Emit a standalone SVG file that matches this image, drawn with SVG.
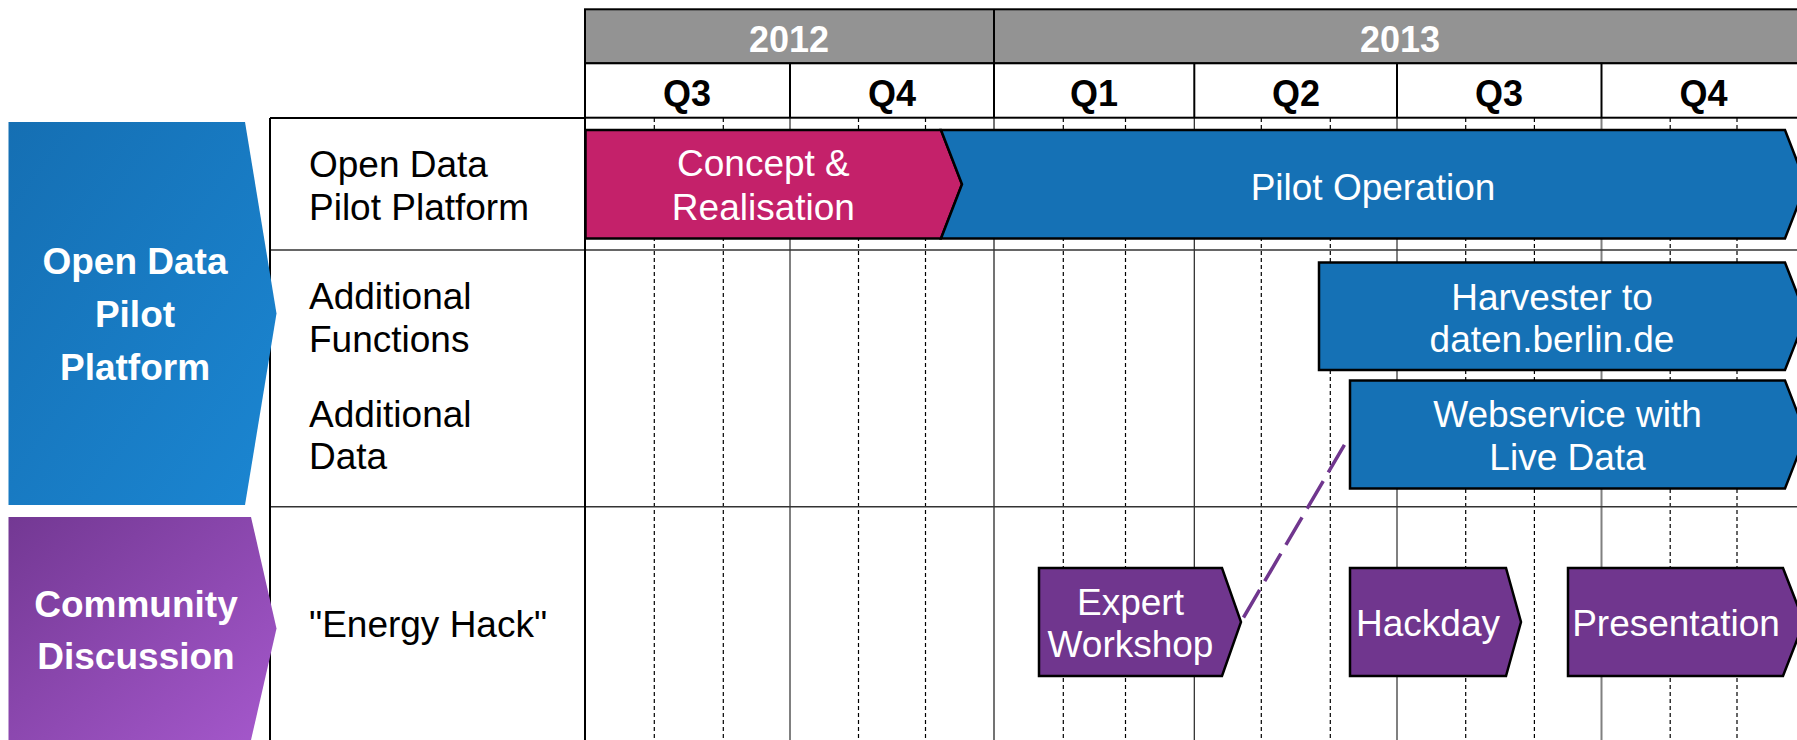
<svg xmlns="http://www.w3.org/2000/svg" width="1797" height="740" viewBox="0 0 1797 740">
<style>
.lbl{font-family:"Liberation Sans",Arial,sans-serif;font-size:37px;fill:#000}
.bt{font-family:"Liberation Sans",Arial,sans-serif;font-size:37px;fill:#fff;text-anchor:middle}
.hd{font-family:"Liberation Sans",Arial,sans-serif;font-size:36px;font-weight:bold;text-anchor:middle}
.cat{font-family:"Liberation Sans",Arial,sans-serif;font-size:37px;font-weight:bold;fill:#fff;text-anchor:middle}
.bar{stroke:#000;stroke-width:2.5;stroke-linejoin:miter}
.blue{fill:#1571b5}
.mag{fill:#c4216a}
.pur{fill:#70368e}
.mon{stroke:#000;stroke-width:1.2;stroke-dasharray:4 3}
.qtr{stroke:#808080;stroke-width:2}
.row{stroke:#333;stroke-width:1.5}
</style>
<defs>
<linearGradient id="gBlue" x1="0" y1="0" x2="1" y2="1">
<stop offset="0" stop-color="#156fb3"/>
<stop offset="1" stop-color="#1b86d2"/>
</linearGradient>
<linearGradient id="gPur" x1="0" y1="0" x2="1" y2="1">
<stop offset="0" stop-color="#733893"/>
<stop offset="1" stop-color="#a558cc"/>
</linearGradient>
</defs>
<rect width="1797" height="740" fill="#fff"/>

<g id="grid">
<line class="mon" x1="654.3" y1="118" x2="654.3" y2="740"/>
<line class="mon" x1="723.3" y1="118" x2="723.3" y2="740"/>
<line class="mon" x1="858.5" y1="118" x2="858.5" y2="740"/>
<line class="mon" x1="925.5" y1="118" x2="925.5" y2="740"/>
<line class="mon" x1="1063.3" y1="118" x2="1063.3" y2="740"/>
<line class="mon" x1="1125.5" y1="118" x2="1125.5" y2="740"/>
<line class="mon" x1="1261.3" y1="118" x2="1261.3" y2="740"/>
<line class="mon" x1="1330.3" y1="118" x2="1330.3" y2="740"/>
<line class="mon" x1="1465.7" y1="118" x2="1465.7" y2="740"/>
<line class="mon" x1="1534.4" y1="118" x2="1534.4" y2="740"/>
<line class="mon" x1="1670.2" y1="118" x2="1670.2" y2="740"/>
<line class="mon" x1="1737" y1="118" x2="1737" y2="740"/>
<line class="qtr" x1="790" y1="118" x2="790" y2="740"/>
<line class="qtr" x1="994" y1="118" x2="994" y2="740" style="stroke:#444;stroke-width:1.5"/>
<line class="qtr" x1="1194.3" y1="118" x2="1194.3" y2="740" style="stroke:#222;stroke-width:1.2"/>
<line class="qtr" x1="1397" y1="118" x2="1397" y2="740"/>
<line class="qtr" x1="1601.5" y1="118" x2="1601.5" y2="740"/>
<line class="row" x1="270" y1="250" x2="1797" y2="250"/>
<line class="row" x1="270" y1="506.7" x2="1797" y2="506.7"/>
<line x1="270" y1="118" x2="585" y2="118" stroke="#000" stroke-width="2"/>
<line x1="270" y1="118" x2="270" y2="740" stroke="#000" stroke-width="2"/>
<line x1="585" y1="9.3" x2="585" y2="740" stroke="#000" stroke-width="2"/>
</g>

<g id="header">
<rect x="585" y="9.3" width="1240" height="54" fill="#939393" stroke="#000" stroke-width="2"/>
<rect x="585" y="63.3" width="1240" height="54.4" fill="#fff" stroke="#000" stroke-width="2"/>
<line x1="994" y1="9.3" x2="994" y2="117.7" stroke="#000" stroke-width="2"/>
<line x1="790" y1="63.3" x2="790" y2="117.7" stroke="#000" stroke-width="2"/>
<line x1="1194.3" y1="63.3" x2="1194.3" y2="117.7" stroke="#000" stroke-width="2"/>
<line x1="1397" y1="63.3" x2="1397" y2="117.7" stroke="#000" stroke-width="2"/>
<line x1="1601.5" y1="63.3" x2="1601.5" y2="117.7" stroke="#000" stroke-width="2"/>
<text class="hd" x="789" y="51.5" fill="#fff">2012</text>
<text class="hd" x="1400" y="51.5" fill="#fff">2013</text>
<text class="hd" x="687" y="106">Q3</text>
<text class="hd" x="892" y="106">Q4</text>
<text class="hd" x="1094" y="106">Q1</text>
<text class="hd" x="1296" y="106">Q2</text>
<text class="hd" x="1499" y="106">Q3</text>
<text class="hd" x="1703.5" y="106">Q4</text>
</g>

<g id="cat-open-data">
<polygon points="8.5,122 245,122 276.5,313.5 245,505 8.5,505" fill="url(#gBlue)"/>
<text class="cat" x="135" y="274">Open Data</text>
<text class="cat" x="135" y="327">Pilot</text>
<text class="cat" x="135" y="380">Platform</text>
</g>

<g id="cat-community">
<polygon points="8.5,517 251,517 276.5,628.5 251,740 8.5,740" fill="url(#gPur)"/>
<text class="cat" x="136" y="616.5">Community</text>
<text class="cat" x="136" y="668.5">Discussion</text>
</g>

<g id="row-labels">
<text class="lbl" x="309" y="176.7">Open Data</text>
<text class="lbl" x="309" y="220">Pilot Platform</text>
<text class="lbl" x="309" y="309.3">Additional</text>
<text class="lbl" x="309" y="351.7">Functions</text>
<text class="lbl" x="309" y="426.7">Additional</text>
<text class="lbl" x="309" y="469.3">Data</text>
<text class="lbl" x="309" y="636.7">"Energy Hack"</text>
</g>

<g id="bar-concept">
<polygon class="bar mag" points="585.5,130 941,130 962,184.3 941,238.5 585.5,238.5"/>
<text class="bt" x="763.4" y="175.7">Concept &amp;</text>
<text class="bt" x="763.4" y="220">Realisation</text>
</g>

<g id="bar-pilot">
<polygon class="bar blue" points="941,130 1785,130 1806,184.3 1785,238.5 941,238.5 962,184.3"/>
<text class="bt" x="1373" y="200">Pilot Operation</text>
</g>

<g id="bar-harvester">
<polygon class="bar blue" points="1319,262.5 1785,262.5 1806,316.3 1785,370 1319,370"/>
<text class="bt" x="1552" y="310">Harvester to</text>
<text class="bt" x="1552" y="351.7">daten.berlin.de</text>
</g>

<g id="bar-webservice">
<polygon class="bar blue" points="1350,380.5 1785,380.5 1806,434.5 1785,488.5 1350,488.5"/>
<text class="bt" x="1567.5" y="426.7">Webservice with</text>
<text class="bt" x="1567.5" y="470">Live Data</text>
</g>

<g id="bar-expert">
<polygon class="bar pur" points="1039,568 1222,568 1241,622 1222,676 1039,676"/>
<text class="bt" x="1130.5" y="615">Expert</text>
<text class="bt" x="1130.5" y="656.7">Workshop</text>
</g>

<g id="bar-hackday">
<polygon class="bar pur" points="1350,568 1506,568 1521,622 1506,676 1350,676"/>
<text class="bt" x="1428" y="636">Hackday</text>
</g>

<g id="bar-presentation">
<polygon class="bar pur" points="1568,568 1783,568 1804,622 1783,676 1568,676"/>
<text class="bt" x="1676" y="636">Presentation</text>
</g>

<g id="connectors">
<line x1="1243.5" y1="617.5" x2="1349" y2="437" stroke="#70368e" stroke-width="3.5" stroke-dasharray="32 10"/>
</g>
</svg>
